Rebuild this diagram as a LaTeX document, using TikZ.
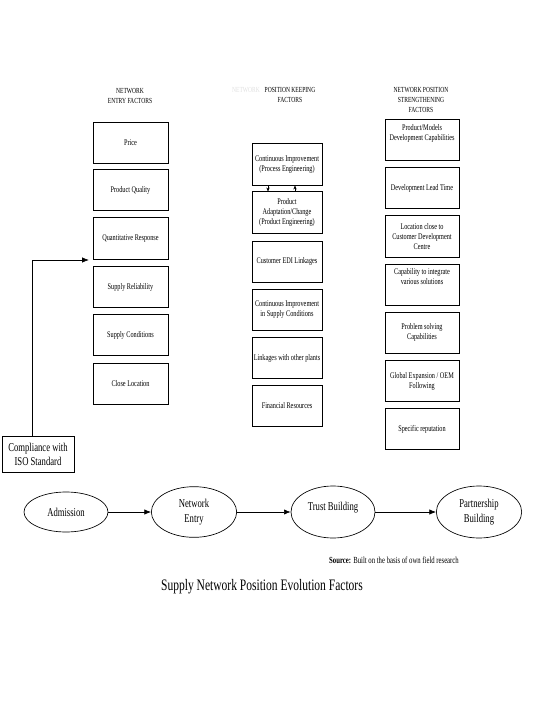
\documentclass[tikz,border=0pt]{standalone}
\usepackage{fontspec}
\setmainfont{Liberation Serif}[FakeStretch=0.72]
\usepackage{xcolor}
\usepackage{tikz}
\usetikzlibrary{positioning,calc,shapes,arrows.meta}

\begin{document}
\begin{tikzpicture}[x=0.75pt, y=-0.75pt,
		fbox/.style={draw, line width=0.5pt, minimum height=31pt, inner sep=1pt, align=center, font=\fontsize{6.5}{7.5}\selectfont},
		hdr/.style={align=center, inner sep=0pt, font=\fontsize{5.8}{7.5}\selectfont},
		stage/.style={ellipse, draw, line width=0.5pt, inner sep=0pt, align=center, font=\fontsize{9}{11}\selectfont},
		arr/.style={-{Latex[length=5pt, width=4pt]}, line width=0.5pt}]
						\useasboundingbox (0,0) rectangle (540,720);

						% headers
						\node[hdr] (he) at (130,96) {NETWORK\\ENTRY FACTORS};
						\node[hdr, text=black!12] (hk0) at (246,90) {NETWORK};
						\node[hdr] (hk) at (290,95) {POSITION KEEPING\\FACTORS};
						\node[hdr] (hs) at (421,100) {NETWORK POSITION\\STRENGTHENING\\FACTORS};

						% entry factors
						\node[fbox, minimum width=56pt] (e1) at (130.5,143) {Price};
						\node[fbox, minimum width=56pt] (e2) at (130.5,190) {Product Quality};
						\node[fbox, minimum width=56pt] (e3) at (130.5,238.5) {Quantitative Response};
						\node[fbox, minimum width=56pt] (e4) at (130.5,287) {Supply Reliability};
						\node[fbox, minimum width=56pt] (e5) at (130.5,335) {Supply Conditions};
						\node[fbox, minimum width=56pt] (e6) at (130.5,383.5) {Close Location};

						% keeping factors
						\node[fbox, minimum width=52.5pt] (k1) at (287,164.5) {Continuous Improvement\\(Process Engineering)};
						\node[fbox, minimum width=52.5pt] (k2) at (287,212.5) {Product\\Adaptation/Change\\(Product Engineering)};
						\node[fbox, minimum width=52.5pt] (k3) at (287,261.5) {Customer EDI Linkages};
						\node[fbox, minimum width=52.5pt] (k4) at (287,310) {Continuous Improvement\\in Supply Conditions};
						\node[fbox, minimum width=52.5pt] (k5) at (287,358) {Linkages with other plants};
						\node[fbox, minimum width=52.5pt] (k6) at (287,406) {Financial Resources};
						\draw[-{Stealth[length=3pt, width=2.5pt]}, line width=0.4pt] ($(k1.south)+(-19,0)$) -- ($(k2.north)+(-19,0)$);
						\draw[-{Stealth[length=3pt, width=2.5pt]}, line width=0.4pt] ($(k2.north)+(8,0)$) -- ($(k1.south)+(8,0)$);

						% strengthening factors
						\node[fbox, minimum width=55.5pt] (s1) at (422,140) {Product/Models\\Development Capabilities\\[4pt]\mbox{}};
						\node[fbox, minimum width=55.5pt] (s2) at (422,188) {Development Lead Time};
						\node[fbox, minimum width=55.5pt] (s3) at (422,236.5) {Location close to\\Customer Development\\Centre};
						\node[fbox, minimum width=55.5pt] (s4) at (422,284.5) {Capability to integrate\\various solutions\\[4pt]\mbox{}};
						\node[fbox, minimum width=55.5pt] (s5) at (422,332.5) {Problem solving\\Capabilities};
						\node[fbox, minimum width=55.5pt] (s6) at (422,381) {Global Expansion / OEM\\Following};
						\node[fbox, minimum width=55.5pt] (s7) at (422,429) {Specific reputation};

						% ISO
						\node[draw, line width=0.5pt, minimum width=54pt, minimum height=27pt, inner sep=1pt, align=center, font=\fontsize{9}{10.5}\selectfont] (iso) at (38,454) {Compliance with\\ISO Standard};
						\draw[arr] ($(iso.north)+(-6,0)$) |- ($(e3.south west)+(-4,0.5)$);

						% stages
						\node[stage, minimum width=63pt, minimum height=30pt] (adm) at (66,512) {Admission};
						\node[stage, minimum width=64pt, minimum height=38pt] (ent) at (194,512) {Network\\Entry};
						\node[stage, minimum width=63pt, minimum height=39pt] (trs) at (333,512) {Trust Building\\[-2pt]\mbox{}};
						\node[stage, minimum width=64pt, minimum height=39pt] (prt) at (479,512) {Partnership\\Building};
						\draw[arr] (adm) -- (ent);
						\draw[arr] (ent) -- (trs);
						\draw[arr] (trs) -- (prt);

						\node[font=\fontsize{7}{8}\selectfont, inner sep=0pt] (src) at (394,560) {\textbf{Source:} Built on the basis of own field research};
						\node[font=\fontsize{12}{14}\selectfont, inner sep=0pt] (ttl) at (262,587) {Supply Network Position Evolution Factors};

					\end{tikzpicture}
\end{document}
